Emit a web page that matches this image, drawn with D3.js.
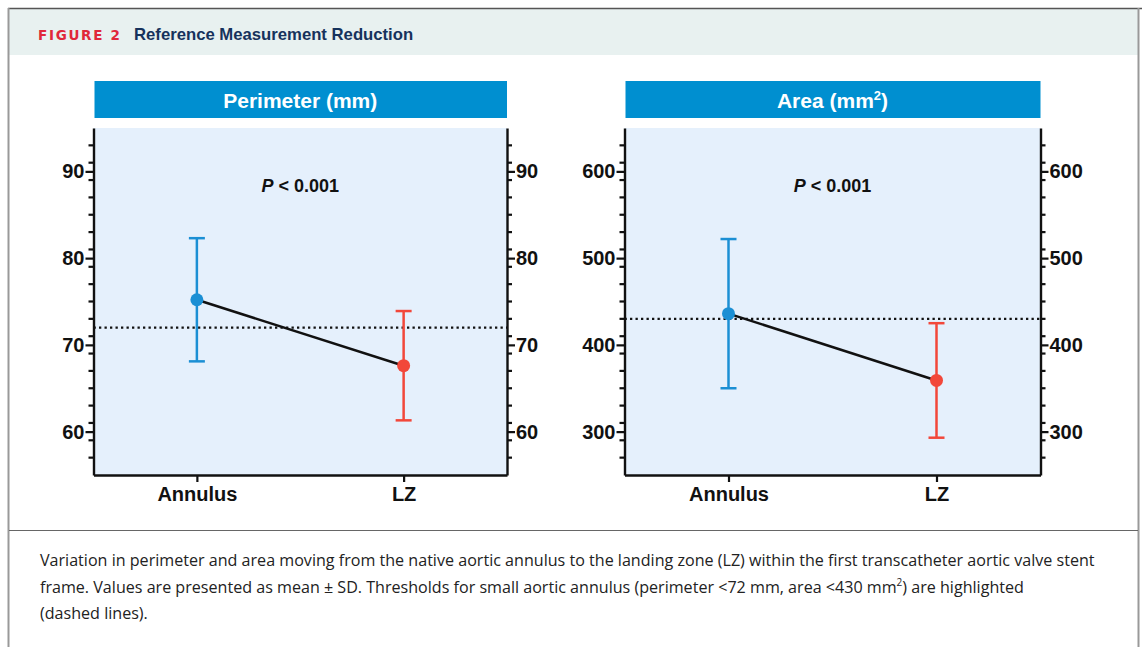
<!DOCTYPE html>
<html>
<head>
<meta charset="utf-8">
<script src="https://cdn.jsdelivr.net/npm/d3@7"></script>
<style>
  body { margin: 0; background: #fff; }
  svg { display: block; }
</style>
</head>
<body>
<div id="chart"></div>
<script>
// data
const categories = ["Annulus", "LZ"];
const perimeterMean = [75.2, 67.6];
const perimeterSD = [7.1, 6.3];
const areaMean = [436, 359];
const areaSD = [86, 66];
const perimeterTicks = [60, 70, 80, 90];
const areaTicks = [300, 400, 500, 600];
const perimeterThreshold = 72;
const areaThreshold = 430;
const pValue = "< 0.001";
const captionLines = [
  "Variation in perimeter and area moving from the native aortic annulus to the landing zone (LZ) within the first transcatheter aortic valve stent",
  "frame. Values are presented as mean \u00b1 SD. Thresholds for small aortic annulus (perimeter <72 mm, area <430 mm|2|) are highlighted",
  "(dashed lines)."
];

const W = 1142, H = 647;
const blue = "#1b8fd4", red = "#f2473a";
const font = "Liberation Sans, Arial, sans-serif";
const svg = d3.select("#chart").append("svg").attr("width", W).attr("height", H);

// frame + header
svg.append("rect").attr("x", 9).attr("y", 9).attr("width", 1129).attr("height", 46).attr("fill", "#e8f1f0");
svg.append("line").attr("x1", 8).attr("x2", 1142).attr("y1", 8.5).attr("y2", 8.5).attr("stroke", "#555").attr("stroke-width", 1.5);
svg.append("line").attr("x1", 8.5).attr("x2", 8.5).attr("y1", 8).attr("y2", H).attr("stroke", "#999").attr("stroke-width", 2);
svg.append("line").attr("x1", 1138.5).attr("x2", 1138.5).attr("y1", 8).attr("y2", H).attr("stroke", "#999").attr("stroke-width", 2);
svg.append("line").attr("x1", 9).attr("x2", 1138).attr("y1", 530.5).attr("y2", 530.5).attr("stroke", "#666").attr("stroke-width", 1.2);

svg.append("text").attr("x", 38).attr("y", 39.5)
  .attr("font-family", "DejaVu Sans, sans-serif").attr("font-weight", "bold")
  .attr("font-size", 13.5).attr("letter-spacing", 1.7).attr("fill", "#e0283a").text("FIGURE 2");
svg.append("text").attr("x", 134).attr("y", 39.5)
  .attr("font-family", font).attr("font-weight", "bold")
  .attr("font-size", 16.7).attr("fill", "#16325c").text("Reference Measurement Reduction");

// caption
const cap = svg.append("g").attr("font-family", "Open Sans, Noto Sans, sans-serif")
  .attr("font-size", 16.1).attr("fill", "#222");
captionLines.forEach((line, i) => {
  const t = cap.append("text").attr("x", 40).attr("y", 566 + i * 26.5);
  const parts = line.split("|");
  parts.forEach((p, j) => {
    if (j % 2 === 1) {
      t.append("tspan").attr("font-size", 10).attr("dy", -7).text(p);
    } else {
      const ts = t.append("tspan").text(p);
      if (j > 0) ts.attr("dy", 7);
    }
  });
});

function drawPanel(opts) {
  const left = opts.left, right = opts.right, top = 128, bottom = 475;
  const g = svg.append("g");

  // title band
  g.append("rect").attr("x", left + 1).attr("y", 81).attr("width", right - left - 1).attr("height", 37).attr("fill", "#008fd0");
  const title = g.append("text").attr("x", (left + right) / 2).attr("y", 107.5)
    .attr("text-anchor", "middle").attr("fill", "#fff")
    .attr("font-family", font).attr("font-weight", "bold").attr("font-size", 21);
  title.append("tspan").text(opts.title);
  if (opts.sup) {
    title.append("tspan").attr("font-size", 13).attr("dy", -8).text(opts.sup);
    title.append("tspan").attr("dy", 8).text(")");
  }

  const x = d3.scalePoint().domain(categories).range([left, right]).padding(0.5);
  const y = d3.scaleLinear().domain(opts.domain).range([bottom, top]);

  g.append("rect").attr("x", left).attr("y", top).attr("width", right - left).attr("height", bottom - top).attr("fill", "#e5f0fc");

  // minor ticks
  const minor = d3.range(opts.domain[0] + opts.minorStep, opts.domain[1], opts.minorStep);
  [[left, -1], [right, 1]].forEach(([ax, dir]) => {
    g.selectAll(null).data(minor).join("line")
      .attr("x1", ax).attr("x2", ax + dir * 5)
      .attr("y1", d => y(d)).attr("y2", d => y(d))
      .attr("stroke", "#111").attr("stroke-width", 2.2);
  });

  const axL = d3.axisLeft(y).tickValues(opts.ticks).tickSize(8).tickPadding(1).tickSizeOuter(0);
  const axR = d3.axisRight(y).tickValues(opts.ticks).tickSize(8).tickPadding(1).tickSizeOuter(0);
  const axB = d3.axisBottom(x).tickSize(7).tickPadding(5).tickSizeOuter(0);
  [[axL, `translate(${left},0)`, "yAxis"], [axR, `translate(${right},0)`, "yAxis"], [axB, `translate(0,${bottom})`, "xAxis"]].forEach(([ax, tr, cls]) => {
    const a = g.append("g").attr("class", cls).attr("transform", tr).call(ax);
    a.select(".domain").attr("stroke", "#111").attr("stroke-width", 2.4);
    a.selectAll(".tick line").attr("stroke", "#111").attr("stroke-width", 2.2);
    a.selectAll("text").attr("font-family", font).attr("font-weight", "bold").attr("fill", "#111");
  });
  g.selectAll(".yAxis .tick text").attr("font-size", 20);
  g.selectAll(".xAxis .tick text").attr("font-size", 20);

  // threshold
  g.append("line").attr("x1", left).attr("x2", right)
    .attr("y1", y(opts.threshold)).attr("y2", y(opts.threshold))
    .attr("stroke", "#111").attr("stroke-width", 2.3).attr("stroke-dasharray", "2.3,3.2");

  // P value
  const p = g.append("text").attr("x", x("Annulus") + (x("LZ") - x("Annulus")) / 2).attr("y", 192)
    .attr("text-anchor", "middle").attr("font-family", font).attr("font-weight", "bold").attr("font-size", 18).attr("fill", "#111");
  p.append("tspan").attr("font-style", "italic").text("P");
  p.append("tspan").text(" " + pValue);

  const colors = [blue, red];
  const pts = categories.map((c, i) => ({ c, m: opts.mean[i], sd: opts.sd[i], col: colors[i] }));

  // connecting line
  g.append("path").datum(pts)
    .attr("d", d3.line().x(d => x(d.c)).y(d => y(d.m)))
    .attr("stroke", "#111").attr("stroke-width", 2.5).attr("fill", "none");

  pts.forEach(d => {
    const cx = x(d.c);
    g.append("line").attr("x1", cx).attr("x2", cx).attr("y1", y(d.m + d.sd)).attr("y2", y(d.m - d.sd))
      .attr("stroke", d.col).attr("stroke-width", 2.5);
    [d.m + d.sd, d.m - d.sd].forEach(v => {
      g.append("line").attr("x1", cx - 8).attr("x2", cx + 8).attr("y1", y(v)).attr("y2", y(v))
        .attr("stroke", d.col).attr("stroke-width", 2.5);
    });
    g.append("circle").attr("cx", cx).attr("cy", y(d.m)).attr("r", 6.5).attr("fill", d.col);
  });
}

drawPanel({ left: 93.5, right: 507, title: "Perimeter (mm)", domain: [55, 95], ticks: perimeterTicks, minorStep: 2,
  mean: perimeterMean, sd: perimeterSD, threshold: perimeterThreshold });
drawPanel({ left: 624.5, right: 1040.5, title: "Area (mm", sup: "2", domain: [250, 650], ticks: areaTicks, minorStep: 20,
  mean: areaMean, sd: areaSD, threshold: areaThreshold });
</script>
</body>
</html>
